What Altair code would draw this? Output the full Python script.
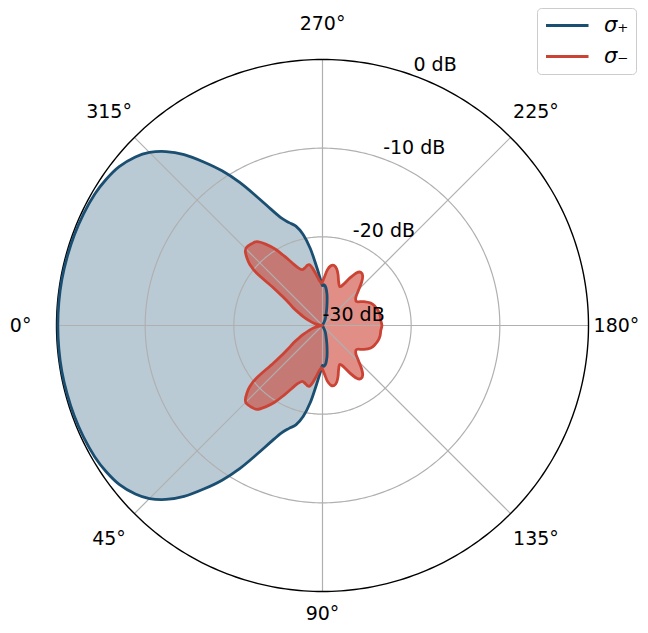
import altair as alt
import pandas as pd

# ---- data (angle in degrees, level in dB) ----
blue_theta = [0, 5, 10, 15, 20, 25, 30, 34, 38, 42, 45, 48, 51, 54, 57, 60, 63, 66, 69, 72,
              75, 78, 81, 84, 87, 89, 90, 92, 95, 98, 100, 103, 108, 114, 122, 150, 180,
              210, 238, 246, 252, 257, 260, 262, 265, 268, 270, 271, 273, 276, 279, 282,
              285, 288, 291, 294, 297, 300, 303, 306, 309, 312, 315, 318, 322, 326, 330,
              335, 340, 345, 350, 355]
blue_db = [-0.15, -0.15, -0.15, -0.18, -0.2, -0.25, -0.35, -0.55, -0.9, -1.6, -2.4, -3.6,
           -5.2, -7.2, -9.2, -11.4, -13.7, -15.6, -17.0, -17.8, -18.4, -19.5, -21.2, -23.2,
           -24.6, -25.3, -25.5, -25.4, -25.7, -26.4, -27.0, -27.8, -28.7, -29.3, -30, -30, -30,
           -30, -30, -29.3, -28.7, -27.8, -27.0, -26.4, -25.7, -25.4, -25.5, -25.3, -24.6,
           -23.2, -21.2, -19.5, -18.4, -17.8, -17.0, -15.6, -13.7, -11.4, -9.2, -7.2, -5.2,
           -3.6, -2.4, -1.6, -0.9, -0.55, -0.35, -0.25, -0.2, -0.18, -0.15, -0.15]

red_theta = [0, 10, 15, 20, 25, 28, 31, 34, 36, 37.5, 38.5, 40, 42, 44, 46, 49, 52, 55, 58, 61,
             64, 67, 70, 73, 76, 78, 80, 83, 86, 89, 92, 95, 98, 101, 104, 107, 110, 114, 117,
             120, 123, 126, 129, 132, 136, 140, 145, 150, 155, 160, 165, 170, 175, 180,
             185, 190, 195, 200, 205, 210, 215, 220, 224, 228, 231, 234, 237, 240, 243, 246,
             250, 253, 256, 259, 262, 265, 268, 271, 274, 277, 280, 282, 284, 287, 290, 293,
             296, 299, 302, 305, 308, 311, 314, 316, 318, 320, 321.5, 322.5, 324, 326, 329,
             332, 335, 340, 345, 350]
red_db = [-30, -29.6, -29.0, -28.4, -27.6, -27.0, -26.2, -25.4, -24.4, -23.0, -20.5, -19.3,
          -18.5, -17.9, -17.7, -17.8, -18.0, -18.8, -19.8, -21.0, -22.1, -22.9, -23.3, -23.2,
          -23.0, -23.0, -23.4, -24.2, -24.9, -25.2, -24.6, -23.7, -23.2, -23.1, -23.4, -24.0,
          -24.7, -25.2, -24.8, -23.8, -22.9, -22.6, -22.8, -23.4, -24.4, -25.1, -25.3, -24.6,
          -24.0, -23.7, -23.5, -23.4, -23.4, -23.3,
          -23.4, -23.4, -23.5, -23.7, -24.0, -24.6, -25.3, -25.1, -24.4, -23.4, -22.8, -22.6,
          -22.9, -23.8, -24.8, -25.2, -24.7, -24.0, -23.4, -23.1, -23.2, -23.7, -24.6, -25.2,
          -24.9, -24.2, -23.4, -23.0, -23.0, -23.2, -23.3, -22.9, -22.1, -21.0, -19.8, -18.8,
          -18.0, -17.8, -17.7, -17.9, -18.5, -19.3, -20.5, -23.0, -24.4, -25.4, -26.2, -27.0,
          -27.6, -28.4, -29.0, -29.6]

series_names = ["σ₊", "σ₋"]
series_colors = ["#1b4f72", "#cb4335"]

ring_levels = [-20, -10]
outer_level = [0]
spoke_angles = [0, 45, 90, 135, 180, 225, 270, 315]
angle_labels = ["0°", "45°", "90°", "135°", "180°", "225°", "270°", "315°"]
angle_label_radius = [1.135, 1.135, 1.085, 1.135, 1.105, 1.135, 1.135, 1.135]
r_label_levels = [-30, -20, -10, 0]
r_label_texts = ["-30 dB", "-20 dB", "-10 dB", "0 dB"]
r_label_angle = 250
r_min, r_max = -30, 0

FONT = "DejaVu Sans"
FS = 19

# ---- layout ----
R_PX = 266.0
CX, CY = 314.5, 317.5
W, H = 632, 617
x_dom = [-CX / R_PX, (W - CX) / R_PX]
y_dom = [-(H - CY) / R_PX, CY / R_PX]

X = alt.X("x:Q", scale=alt.Scale(domain=x_dom, nice=False, zero=False), axis=None)
Y = alt.Y("y:Q", scale=alt.Scale(domain=y_dom, nice=False, zero=False), axis=None)


def polar(ch, rr_expr=None):
    if rr_expr is None:
        rr_expr = f"(max(datum.db, {r_min}) - ({r_min})) / ({r_max} - ({r_min}))"
    return (ch.transform_calculate(rr=rr_expr)
              .transform_calculate(x="-datum.rr * cos(datum.theta * PI / 180)")
              .transform_calculate(y="-datum.rr * sin(datum.theta * PI / 180)"))


df = pd.DataFrame({
    "theta": blue_theta + red_theta,
    "db": blue_db + red_db,
    "series": [series_names[0]] * len(blue_theta) + [series_names[1]] * len(red_theta),
    "i": list(range(len(blue_theta))) + list(range(len(red_theta))),
})

grid_rows = []
for lv in ring_levels + outer_level:
    for a in range(0, 361):
        grid_rows.append({"theta": a, "db": lv, "ring": str(lv)})
grid_df = pd.DataFrame(grid_rows)

spoke_df = pd.DataFrame({"theta": spoke_angles, "label": angle_labels,
                         "lr": angle_label_radius})
rlab_df = pd.DataFrame({"db": r_label_levels, "text": r_label_texts,
                        "theta": [r_label_angle] * len(r_label_levels)})

fill_blue = polar(alt.Chart(df).transform_filter(alt.datum.series == series_names[0])).mark_line(
    interpolate="cardinal-closed", fill=series_colors[0], fillOpacity=0.3, strokeOpacity=0
).encode(x=X, y=Y, order="i:Q")

fill_red = polar(alt.Chart(df).transform_filter(alt.datum.series == series_names[1])).mark_line(
    interpolate="cardinal-closed", fill=series_colors[1], fillOpacity=0.6, strokeOpacity=0
).encode(x=X, y=Y, order="i:Q")

rings = polar(alt.Chart(grid_df).transform_filter("datum.db < 0")).mark_line(
    color="#b0b0b0", strokeWidth=1.2
).encode(x=X, y=Y, order="theta:Q", detail="ring:N")

outer = polar(alt.Chart(grid_df).transform_filter("datum.db == 0")).mark_line(
    color="black", strokeWidth=1.4
).encode(x=X, y=Y, order="theta:Q", detail="ring:N")

spokes = alt.Chart(spoke_df).transform_calculate(
    x0="0", y0="0",
    x="-cos(datum.theta * PI / 180)", y="-sin(datum.theta * PI / 180)"
).mark_rule(color="#b0b0b0", strokeWidth=1.2).encode(
    x=alt.X("x0:Q", scale=alt.Scale(domain=x_dom, nice=False, zero=False), axis=None),
    y=alt.Y("y0:Q", scale=alt.Scale(domain=y_dom, nice=False, zero=False), axis=None),
    x2="x:Q", y2="y:Q")

lines = polar(alt.Chart(df)).mark_line(
    interpolate="cardinal-closed", strokeWidth=2.8
).encode(
    x=X, y=Y, order="i:Q",
    stroke=alt.Stroke("series:N",
                      scale=alt.Scale(domain=series_names, range=series_colors),
                      legend=alt.Legend(title=None, orient="none", legendX=529, legendY=0,
                                        symbolType="M-1,0H4", symbolSize=289,
                                        symbolStrokeWidth=3, labelFontSize=21,
                                        labelFontStyle="italic", labelFont=FONT,
                                        labelColor="black", labelOffset=39, padding=7,
                                        rowPadding=9, strokeColor="#cccccc",
                                        fillColor="white", cornerRadius=4)),
)

rlabels = polar(alt.Chart(rlab_df)).mark_text(
    align="left", baseline="middle", dx=0, dy=-11, fontSize=FS, font=FONT, color="black"
).encode(x=X, y=Y, text="text:N")

alabels = polar(alt.Chart(spoke_df), rr_expr="datum.lr").mark_text(
    align="center", baseline="middle", fontSize=FS, font=FONT, color="black"
).encode(x=X, y=Y, text="label:N")

chart = alt.layer(fill_blue, fill_red, rings, spokes, outer, lines, rlabels, alabels).properties(
    width=W, height=H, autosize=alt.AutoSizeParams(type="none"), padding=0
).configure_view(stroke=None)

chart.save("out.html", embed_options={"renderer": "svg", "actions": False})
